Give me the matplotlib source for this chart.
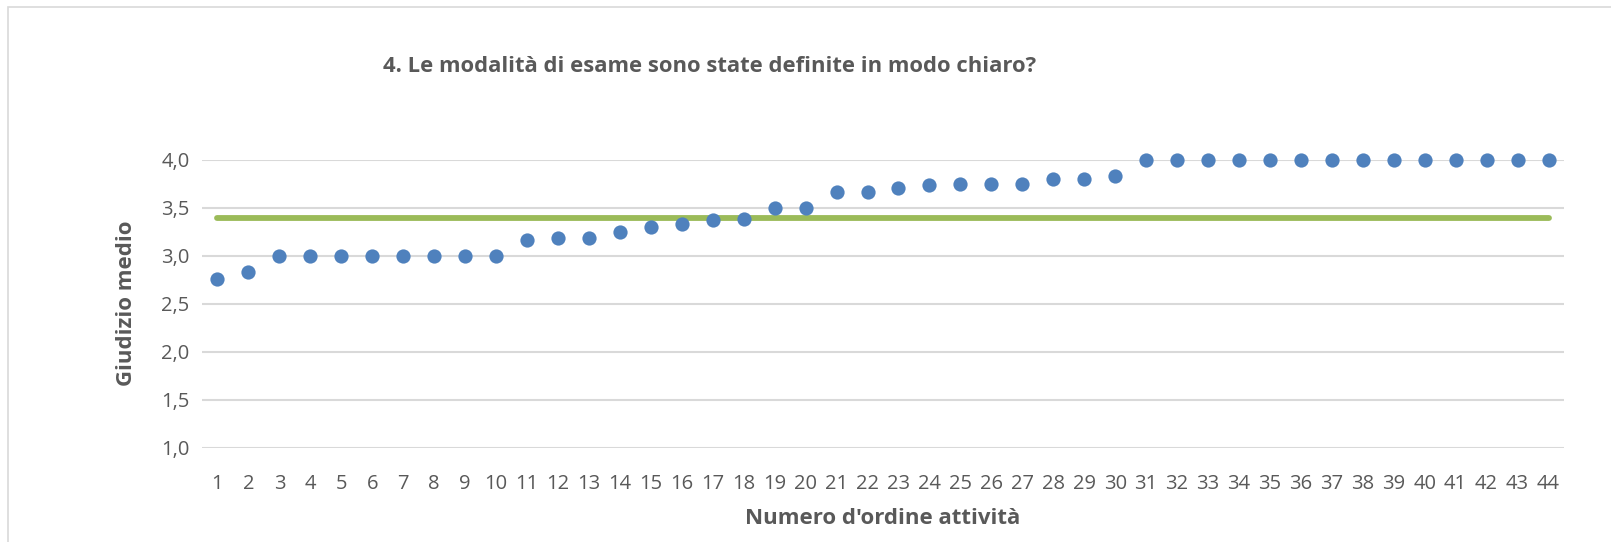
import matplotlib
matplotlib.use("Agg")
import matplotlib.pyplot as plt
from matplotlib.patches import Rectangle

plt.rcParams['font.family'] = ['Open Sans', 'DejaVu Sans']

title = "4. Le modalità di esame sono state definite in modo chiaro?"
xlabel = "Numero d'ordine attività"
ylabel = "Giudizio medio"
activities = list(range(1, 45))
scores = [2.76, 2.83, 3.0, 3.0, 3.0, 3.0, 3.0, 3.0, 3.0, 3.0,
          3.17, 3.19, 3.19, 3.25, 3.30, 3.33, 3.38, 3.39, 3.5, 3.5,
          3.67, 3.67, 3.71, 3.74, 3.75, 3.75, 3.75, 3.80, 3.80, 3.83,
          4.0, 4.0, 4.0, 4.0, 4.0, 4.0, 4.0, 4.0, 4.0, 4.0,
          4.0, 4.0, 4.0, 4.0]
mean_score = 3.40
yticks = [1.0, 1.5, 2.0, 2.5, 3.0, 3.5, 4.0]
ytick_labels = ["1,0", "1,5", "2,0", "2,5", "3,0", "3,5", "4,0"]

W, H = 1611, 542
fig = plt.figure(figsize=(W / 100, H / 100), dpi=100)
fig.patch.set_facecolor("white")

left, right, top, bottom = 202, 1564, 160, 448
ax = fig.add_axes([left / W, 1 - bottom / H, (right - left) / W, (bottom - top) / H])

ax.set_xlim(0.5, 44.5)
ax.set_ylim(1.0, 4.0)
ax.set_yticks(yticks)
ax.set_yticklabels(ytick_labels)
ax.set_xticks(activities)
ax.set_xticklabels([str(a) for a in activities])
for s in ax.spines.values():
    s.set_visible(False)
ax.grid(axis="y", color="#D9D9D9", linewidth=1.5, zorder=0)
ax.set_axisbelow(True)
ax.tick_params(axis="both", length=0, labelsize=14.5, colors="#595959")
ax.tick_params(axis="x", pad=19)
ax.tick_params(axis="y", pad=9)

ax.plot([activities[0], activities[-1]], [mean_score, mean_score],
        color="#9BBB59", linewidth=4.2, solid_capstyle="round", zorder=2, clip_on=False)
ax.scatter(activities, scores, s=105, color="#4F81BD", zorder=3, clip_on=False, linewidths=0)

fig.text(710 / W, 1 - 66 / H, title, ha="center", va="center",
         fontsize=15.8, fontweight="bold", color="#595959")
fig.text(883 / W, 1 - 518 / H, xlabel, ha="center", va="center",
         fontsize=16, fontweight="bold", color="#595959")
fig.text(126 / W, 1 - 303 / H, ylabel, ha="center", va="center", rotation=90,
         fontsize=16, fontweight="bold", color="#595959")

fig.patches.append(Rectangle((8 / W, -0.2), 1.2, 1.2 - 7 / H, transform=fig.transFigure,
                             fill=False, edgecolor="#D9D9D9", linewidth=1.2))

fig.savefig("out.png", dpi=100, facecolor="white")
